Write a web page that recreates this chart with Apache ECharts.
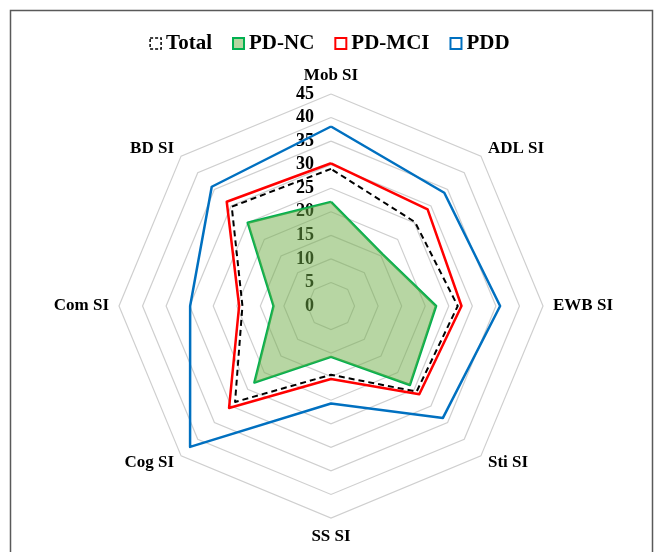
<!DOCTYPE html>
<html>
<head>
<meta charset="utf-8">
<script src="https://cdn.jsdelivr.net/npm/echarts@6/dist/echarts.min.js"></script>
<style>html,body{margin:0;padding:0;background:#fff;}#c{width:659px;height:552px;}</style>
</head>
<body>
<div id="c"></div>
<script>
// Indicators listed in ECharts order (counter-clockwise from top)
var categories = ['Mob SI', 'BD SI', 'Com SI', 'Cog SI', 'SS SI', 'Sti SI', 'EWB SI', 'ADL SI'];
var totalValues = [29.1, 29.8, 18.8, 28.8, 14.6, 25.7, 26.9, 25.2];
var pdncValues  = [22.1, 25.0, 12.2, 23.0, 10.8, 23.7, 22.3, 15.5];
var pdmciValues = [30.3, 31.3, 19.5, 30.6, 15.5, 26.5, 27.7, 29.0];
var pddValues   = [38.1, 35.8, 29.9, 42.3, 20.7, 33.6, 35.9, 34.0];
var seriesNames = ['Total', 'PD-NC', 'PD-MCI', 'PDD'];
var axisMax = 45;

var FONT = 'Liberation Serif';
var chart = echarts.init(document.getElementById('c'), null, {renderer: 'canvas'});

var indicator = categories.map(function (n, i) {
  var o = {name: n, min: 0, max: axisMax};
  if (i !== 0) o.axisLabel = {show: false};
  return o;
});

chart.setOption({
  animation: false,
  backgroundColor: '#fff',
  graphic: [{
    type: 'rect', left: 8, top: 8, silent: true,
    shape: {width: 642, height: 560},
    style: {fill: 'none', stroke: '#595959', lineWidth: 1.5}
  }],
  legend: {
    top: 28, left: 'center',
    icon: 'rect', itemWidth: 11, itemHeight: 11, itemGap: 20,
    textStyle: {fontFamily: FONT, fontWeight: 'bold', fontSize: 21, color: '#000'},
    data: [
      {name: 'Total', itemStyle: {color: '#fff', borderColor: '#000', borderWidth: 1.5, borderType: [3, 2]}},
      {name: 'PD-NC', itemStyle: {color: '#b5d6a0', borderColor: '#00B050', borderWidth: 2}},
      {name: 'PD-MCI', itemStyle: {color: '#fff', borderColor: '#FF0000', borderWidth: 2}},
      {name: 'PDD', itemStyle: {color: '#fff', borderColor: '#0070C0', borderWidth: 2}}
    ]
  },
  radar: {
    center: [331, 306],
    radius: 212,
    startAngle: 90,
    shape: 'polygon',
    splitNumber: 9,
    nameGap: 10,
    indicator: indicator,
    axisName: {color: '#000', fontFamily: FONT, fontWeight: 'bold', fontSize: 17},
    splitLine: {lineStyle: {color: '#cfcfcf', width: 1.2}},
    splitArea: {show: false},
    axisLine: {show: false},
    axisTick: {show: false},
    axisLabel: {show: true, margin: 17, color: '#000', fontFamily: FONT, fontWeight: 'bold', fontSize: 18}
  },
  series: [
    {
      type: 'radar', name: seriesNames[1], symbol: 'none', z: 2,
      itemStyle: {color: '#00B050'},
      lineStyle: {color: '#00B050', width: 2.5},
      areaStyle: {color: 'rgba(112,173,71,0.5)', opacity: 1},
      data: [{value: pdncValues, name: seriesNames[1]}]
    },
    {
      type: 'radar', name: seriesNames[0], symbol: 'none', z: 3,
      itemStyle: {color: '#000'},
      lineStyle: {color: '#000', width: 2, type: [6, 4]},
      data: [{value: totalValues, name: seriesNames[0]}]
    },
    {
      type: 'radar', name: seriesNames[2], symbol: 'none', z: 4,
      itemStyle: {color: '#FF0000'},
      lineStyle: {color: '#FF0000', width: 2.5},
      data: [{value: pdmciValues, name: seriesNames[2]}]
    },
    {
      type: 'radar', name: seriesNames[3], symbol: 'none', z: 5,
      itemStyle: {color: '#0070C0'},
      lineStyle: {color: '#0070C0', width: 2.5},
      data: [{value: pddValues, name: seriesNames[3]}]
    }
  ]
});
</script>
</body>
</html>
